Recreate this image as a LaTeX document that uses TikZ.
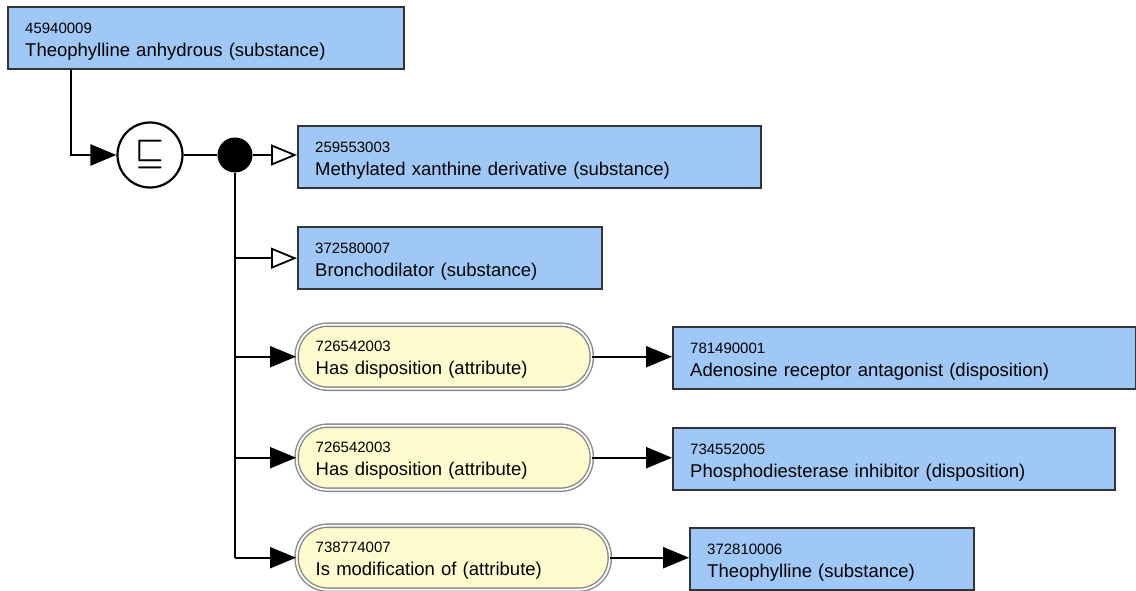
\documentclass[tikz,border=0pt]{standalone}
\usepackage{amsmath,amssymb}
\usepackage{fontspec}
\setmainfont{Liberation Sans}
\usepackage{tikz}
\usetikzlibrary{arrows.meta}
\definecolor{cBox}{HTML}{A0C8F6}
\definecolor{cAttr}{HTML}{FEFCCF}
\definecolor{cEdge}{HTML}{333333}
\definecolor{cRing}{HTML}{888888}
\newcommand{\numfont}{\fontsize{15}{18}\selectfont}
\newcommand{\namefont}{\fontsize{18.5}{23}\selectfont}
\newcommand{\idline}[1]{{\numfont\rule{0pt}{17pt}#1}}
\tikzset{
  concept/.style={draw=cEdge,line width=2.4pt,fill=cBox,anchor=north west,inner xsep=17pt,inner ysep=0pt,
    minimum height=62pt,align=left,font=\namefont},
  attr/.style={draw=cRing,line width=1.4pt,double=white,double distance=1.8pt,fill=cAttr,rounded corners=31pt,
    anchor=north west,inner xsep=19pt,inner ysep=0pt,minimum height=64pt,align=left,font=\namefont},
  opnode/.style={circle,draw=black,line width=2.2pt,fill=white,minimum size=65pt,inner sep=0pt},
  joinnode/.style={circle,fill=black,minimum size=35pt,inner sep=0pt},
  link/.style={line width=2.4pt,black},
  rel/.style={link,-{Triangle[length=26pt,width=21pt]}},
  isa/.style={link,-{Triangle[open,length=26pt,width=21pt,fill=white,line width=1.8pt]}},
}

\begin{document}
\begin{tikzpicture}[x=1pt,y=-1pt]
\useasboundingbox (0,0) rectangle (1136,591);
\node[concept,text width=362pt] (top) at (7,6) {\idline{45940009}\\Theophylline anhydrous (substance)};
\node[opnode] (subsum) at (150,155) {\scalebox{3.2}{$\boldsymbol{\sqsubseteq}$}};
\node[joinnode] (dot) at (235,155) {};
\node[concept,text width=429pt] (xanth) at (297,125) {\idline{259553003}\\Methylated xanthine derivative (substance)};
\node[concept,text width=270pt] (bronch) at (297,226) {\idline{372580007}\\Bronchodilator (substance)};
\node[attr,text width=257pt] (dispA) at (296,324) {\idline{726542003}\\Has disposition (attribute)};
\node[attr,text width=257pt] (dispB) at (296,425) {\idline{726542003}\\Has disposition (attribute)};
\node[attr,text width=275pt] (modif) at (296,525) {\idline{738774007}\\Is modification of (attribute)};
\node[concept,text width=429pt] (adeno) at (672,326) {\idline{781490001}\\Adenosine receptor antagonist (disposition)};
\node[concept,text width=408pt] (phos) at (672,427) {\idline{734552005}\\Phosphodiesterase inhibitor (disposition)};
\node[concept,text width=250pt] (theo) at (689,527) {\idline{372810006}\\Theophylline (substance)};

\draw[rel] ([xshift=64pt]top.south west) |- (subsum);
\draw[link] (subsum) -- (dot);
\draw[isa] (dot) -- (dot -| xanth.west);
\draw[link] (dot) -- (dot |- modif.west);
\draw[isa] (dot |- bronch.west) -- (bronch.west);
\draw[rel] (dot |- dispA.west) -- (dispA.west);
\draw[rel] (dot |- dispB.west) -- (dispB.west);
\draw[rel] (dot |- modif.west) -- (modif.west);
\draw[rel] (dispA.east) -- (dispA.east -| adeno.west);
\draw[rel] (dispB.east) -- (dispB.east -| phos.west);
\draw[rel] (modif.east) -- (modif.east -| theo.west);
\end{tikzpicture}
\end{document}
